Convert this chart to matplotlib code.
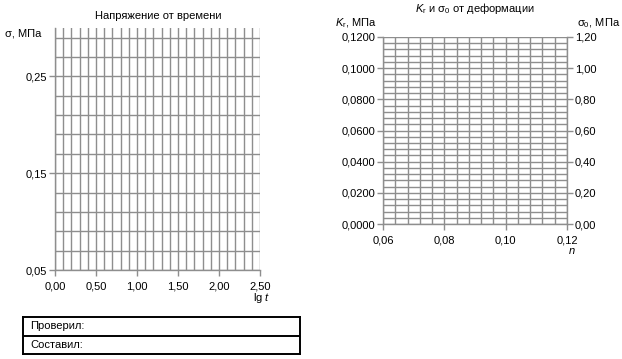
import numpy as np
import matplotlib
matplotlib.use("Agg")
import matplotlib.pyplot as plt
from matplotlib.ticker import FixedLocator, MultipleLocator

plt.rcParams["font.family"] = ["Liberation Sans", "DejaVu Sans"]
plt.rcParams["mathtext.fontset"] = "custom"
plt.rcParams["mathtext.rm"] = "Liberation Sans"
plt.rcParams["mathtext.it"] = "Liberation Sans:italic"

# left chart: stress vs time
lgt_ticks = [0.0, 0.5, 1.0, 1.5, 2.0, 2.5]
lgt_labels = ["0,00", "0,50", "1,00", "1,50", "2,00", "2,50"]
sigma_ticks = [0.05, 0.15, 0.25]
sigma_labels = ["0,05", "0,15", "0,25"]
lgt_step = 0.1
sigma_step = 0.02

# right chart: K_r and sigma_0 vs strain
n_ticks = [0.06, 0.08, 0.10, 0.12]
n_labels = ["0,06", "0,08", "0,10", "0,12"]
kr_ticks = [0.0, 0.02, 0.04, 0.06, 0.08, 0.10, 0.12]
kr_labels = ["0,0000", "0,0200", "0,0400", "0,0600", "0,0800", "0,1000", "0,1200"]
s0_ticks = [0.0, 0.2, 0.4, 0.6, 0.8, 1.0, 1.2]
s0_labels = ["0,00", "0,20", "0,40", "0,60", "0,80", "1,00", "1,20"]
grid_step = 0.004

W, H = 622, 359
grid_col = "#8e8e8e"
fs = 8

fig = plt.figure(figsize=(W / 100, H / 100), dpi=100)


def px_axes(x0, y0, x1, y1):
    return fig.add_axes([x0 / W, 1 - y1 / H, (x1 - x0) / W, (y1 - y0) / H])


def style(ax):
    for s in ax.spines.values():
        s.set_color(grid_col)
        s.set_linewidth(1.0)
    ax.tick_params(which="major", length=4, width=1.0, color=grid_col,
                   labelsize=fs, pad=1.5)
    ax.tick_params(axis="x", which="major", pad=4)
    ax.tick_params(which="minor", length=0)
    ax.grid(True, which="both", color=grid_col, linewidth=1.0)
    ax.set_axisbelow(True)


# ---- left
ax1 = px_axes(55, 28, 260, 270)
ax1.set_xlim(0, 2.5)
ax1.set_ylim(0.05, 0.30)
ax1.set_xticks(lgt_ticks)
ax1.set_xticklabels(lgt_labels)
ax1.set_yticks(sigma_ticks)
ax1.set_yticklabels(sigma_labels)
ax1.xaxis.set_minor_locator(MultipleLocator(lgt_step))
ax1.yaxis.set_minor_locator(FixedLocator(np.arange(0.05, 0.30, sigma_step)))
style(ax1)
ax1.spines["top"].set_visible(False)
ax1.spines["right"].set_visible(False)

fig.text(158 / W, 1 - 16 / H, "Напряжение от времени", ha="center", va="center", fontsize=fs)
fig.text(5 / W, 1 - 33 / H, "σ, МПа", ha="left", va="center", fontsize=fs)
fig.text(270 / W, 1 - 298 / H, "lg $t$", ha="right", va="center", fontsize=fs)

# ---- right
ax2 = px_axes(383, 37, 567, 224)
ax2.set_xlim(0.06, 0.12)
ax2.set_ylim(0, 0.12)
ax2.set_xticks(n_ticks)
ax2.set_xticklabels(n_labels)
ax2.set_yticks(kr_ticks)
ax2.set_yticklabels(kr_labels)
ax2.xaxis.set_minor_locator(MultipleLocator(grid_step))
ax2.yaxis.set_minor_locator(MultipleLocator(grid_step))
style(ax2)
ax2.spines["top"].set_visible(False)

ax3 = ax2.twinx()
ax3.set_ylim(0, 1.2)
ax3.set_yticks(s0_ticks)
ax3.set_yticklabels(s0_labels)
for s in ax3.spines.values():
    s.set_visible(False)
ax3.tick_params(length=4, width=1.0, color=grid_col, labelsize=fs, pad=1.5)

fig.text(475 / W, 1 - 8 / H, r"$K_\mathrm{r}$ и $\mathrm{\sigma_0}$ от деформации",
         ha="center", va="center", fontsize=fs)
fig.text(335 / W, 1 - 23 / H, r"$K_\mathrm{r}$, МПа", ha="left", va="center", fontsize=fs)
fig.text(620 / W, 1 - 23 / H, r"$\mathrm{\sigma_0}$, МПа", ha="right", va="center", fontsize=fs)
fig.text(572 / W, 1 - 251 / H, "$n$", ha="center", va="center", fontsize=fs)

# ---- signature box
box = px_axes(23, 317, 300, 354)
box.set_xticks([])
box.set_yticks([])
box.set_xlim(0, 1)
box.set_ylim(0, 1)
for s in box.spines.values():
    s.set_linewidth(1.4)
    s.set_color("black")
box.axhline(0.5, color="black", linewidth=1.4)
box.text(7 / 277, 0.75, "Проверил:", ha="left", va="center", fontsize=fs)
box.text(7 / 277, 0.25, "Составил:", ha="left", va="center", fontsize=fs)

fig.savefig("out.png", dpi=100)
